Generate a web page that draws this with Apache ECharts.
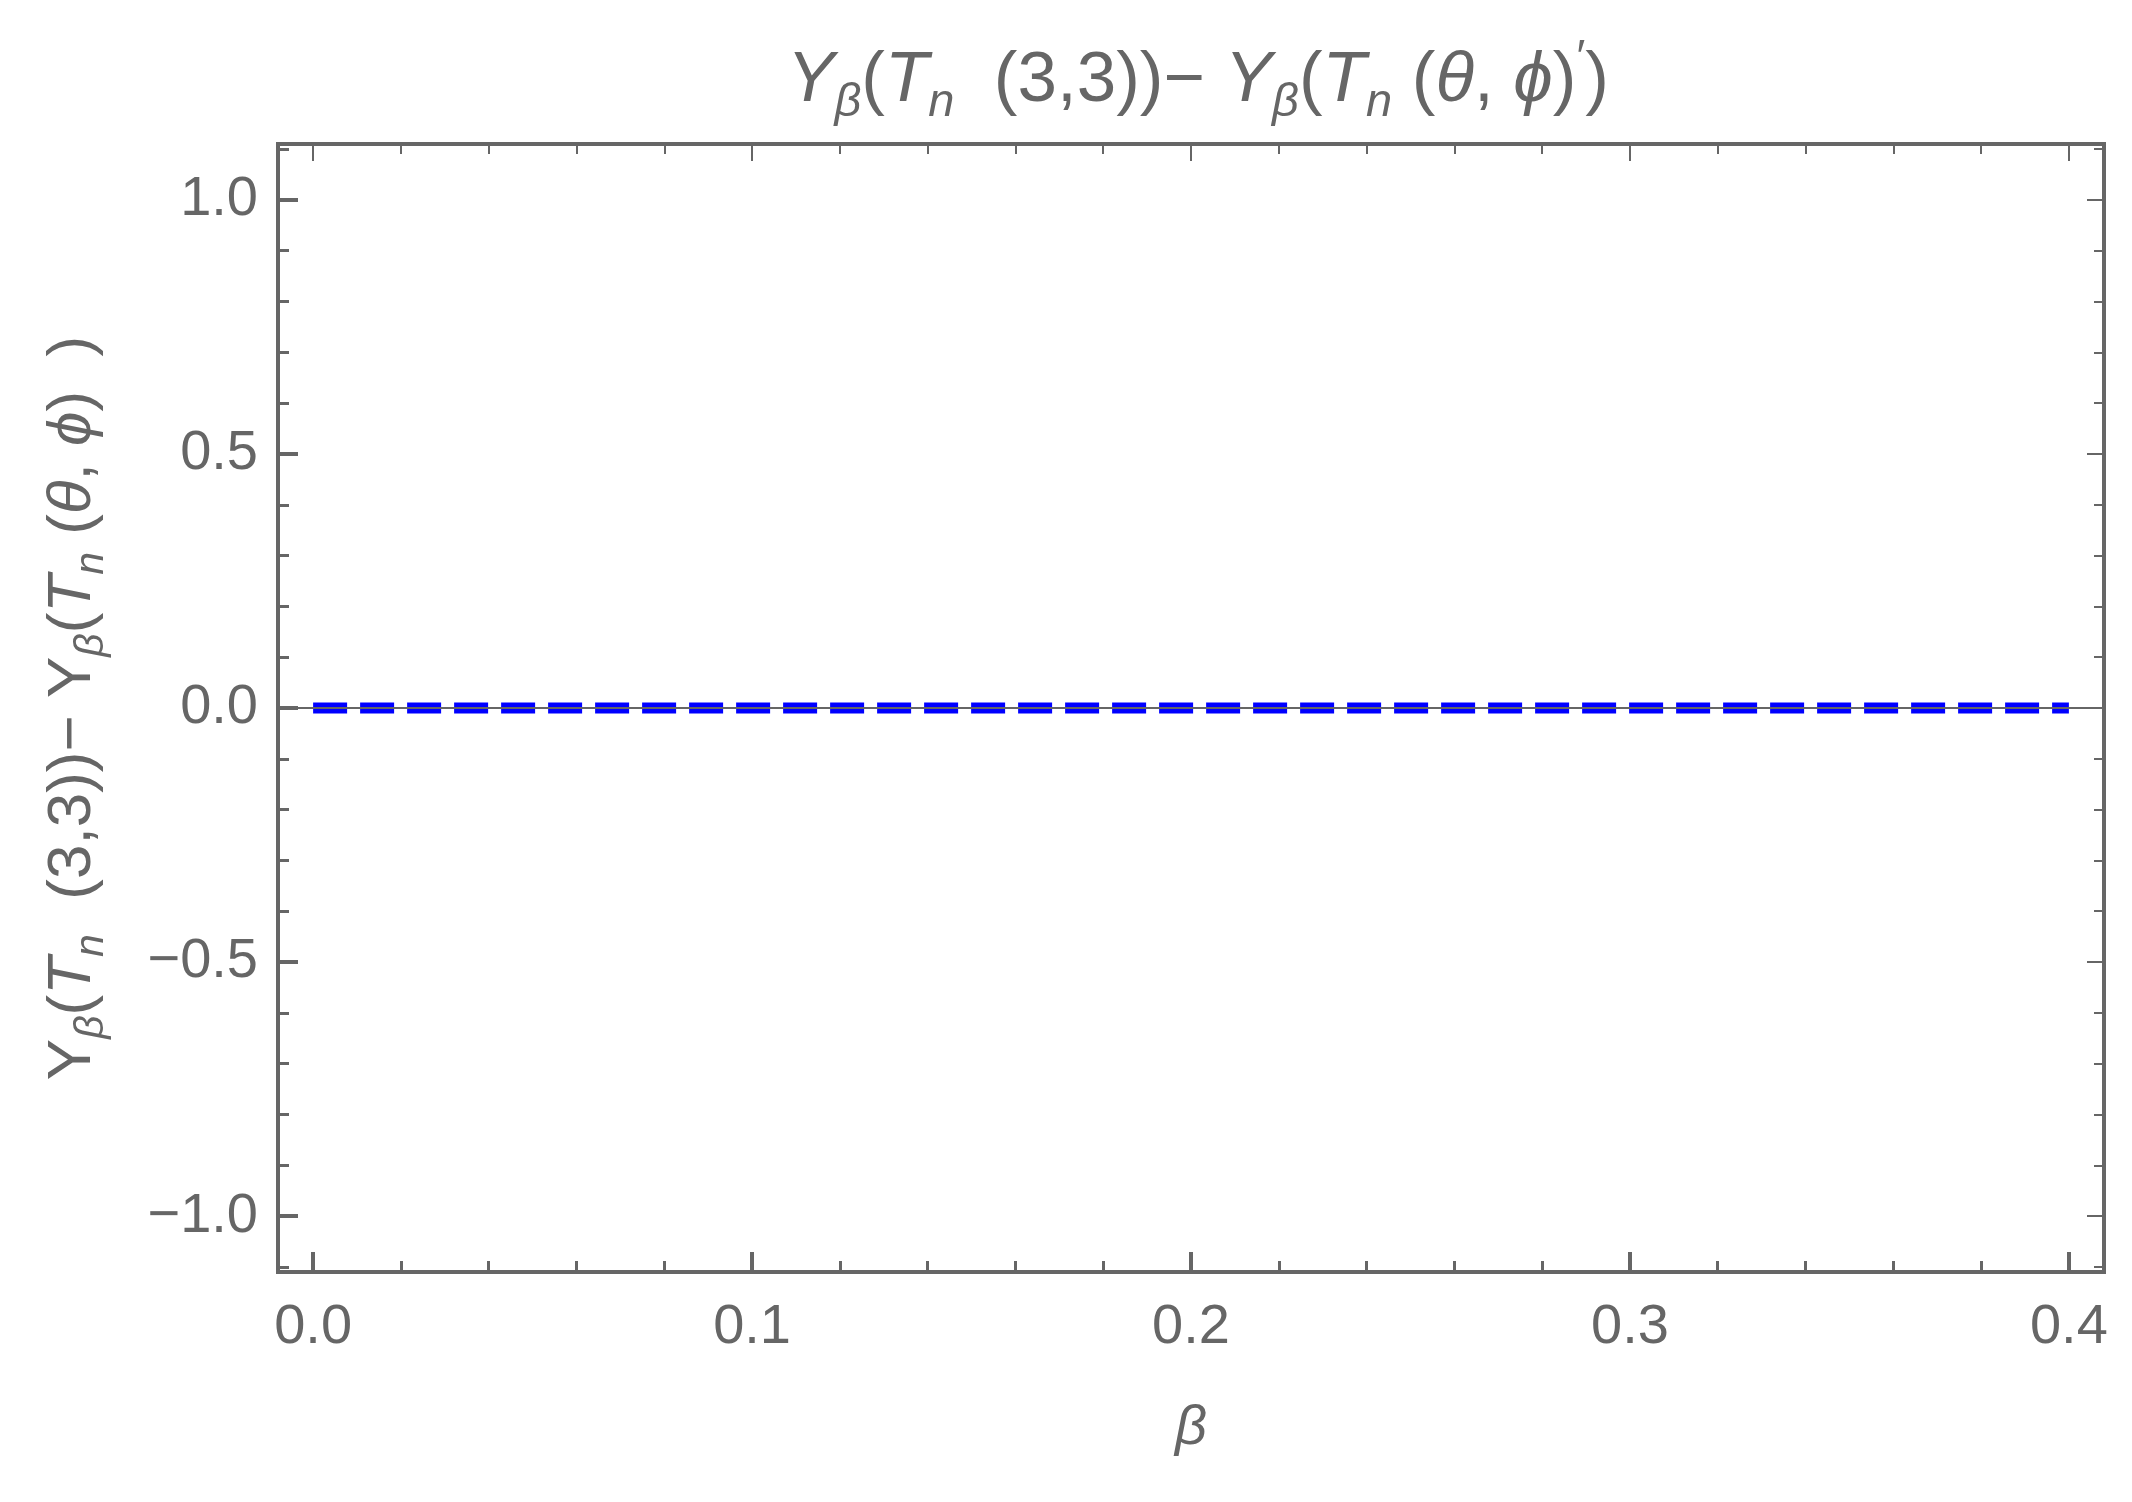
<!DOCTYPE html>
<html>
<head>
<meta charset="utf-8">
<script src="https://cdn.jsdelivr.net/npm/echarts@6/dist/echarts.min.js"></script>
<style>
html,body{margin:0;padding:0;background:#fff;}
#c{width:2132px;height:1502px;}
</style>
</head>
<body>
<div id="c"></div>
<script>
// ---- data ----
const betaValues = [0, 0.05, 0.1, 0.15, 0.2, 0.25, 0.3, 0.35, 0.4];
const diffValues = [0, 0, 0, 0, 0, 0, 0, 0, 0];
const xMajorTicks = [0, 0.1, 0.2, 0.3, 0.4];
const xMinorTicks = [0.02, 0.04, 0.06, 0.08, 0.12, 0.14, 0.16, 0.18, 0.22, 0.24, 0.26, 0.28, 0.32, 0.34, 0.36, 0.38];
const yMajorTicks = [-1, -0.5, 0, 0.5, 1];
const yMinorTicks = [-1.1, -0.9, -0.8, -0.7, -0.6, -0.4, -0.3, -0.2, -0.1, 0.1, 0.2, 0.3, 0.4, 0.6, 0.7, 0.8, 0.9, 1.1];
const xRange = [-0.008, 0.408];
const yRange = [-1.11, 1.11];

const FONT = "'Liberation Sans', Arial, sans-serif";
const GRAY = '#666666';

function fmt(v) {
  return (v < 0 ? '\u2212' : '') + Math.abs(v).toFixed(1);
}

function richStyles(fs, lh, sfs) {
  const base = {fontFamily: FONT, color: GRAY, fontWeight: 'normal'};
  return {
    n: Object.assign({}, base, {fontSize: fs, lineHeight: lh, verticalAlign: 'middle'}),
    i: Object.assign({}, base, {fontSize: fs, fontStyle: 'italic', lineHeight: lh, verticalAlign: 'middle'}),
    sub: Object.assign({}, base, {fontSize: sfs, fontStyle: 'italic', lineHeight: sfs, verticalAlign: 'bottom'}),
    sup: Object.assign({}, base, {fontSize: sfs, lineHeight: sfs, verticalAlign: 'top'})
  };
}

const titleText = '{i|Y}{sub|β}{n|(}{i|T}{sub|n}{n|  (3,3))\u2212 }{i|Y}{sub|β}{n|(}{i|T}{sub|n}{n| (}{i|θ}{n|, }{i|ϕ}{n|)}{sup|\u2032}{n|)}';
const yNameText = '{n|Y}{sub|β}{n|(}{i|T}{sub|n}{n|  (3,3))\u2212 Y}{sub|β}{n|(}{i|T}{sub|n}{n| (}{i|θ}{n|, }{i|ϕ}{n|)  )}';

function xAxisDef(pos, major, show) {
  return {
    type: 'value', gridIndex: 0, position: pos, min: xRange[0], max: xRange[1],
    axisLine: {show: show.line, onZero: false, lineStyle: {color: GRAY, width: 4, cap: 'square'}},
    axisTick: {show: true, inside: true, customValues: major ? xMajorTicks : xMinorTicks,
      length: show.len, lineStyle: {color: GRAY, width: show.w}},
    axisLabel: show.label ? {show: true, customValues: xMajorTicks, formatter: fmt, fontSize: 56, fontFamily: FONT, color: GRAY, margin: 28} : {show: false},
    splitLine: {show: false}
  };
}
function yAxisDef(pos, major, show) {
  return {
    type: 'value', gridIndex: 0, position: pos, min: yRange[0], max: yRange[1],
    axisLine: {show: show.line, onZero: false, lineStyle: {color: GRAY, width: 4, cap: 'square'}},
    axisTick: {show: true, inside: true, customValues: major ? yMajorTicks : yMinorTicks,
      length: show.len, lineStyle: {color: GRAY, width: show.w}},
    axisLabel: show.label ? {show: true, customValues: yMajorTicks, formatter: fmt, fontSize: 56, fontFamily: FONT, color: GRAY, margin: 20} : {show: false},
    splitLine: {show: false}
  };
}

const xMain = xAxisDef('bottom', true, {line: true, len: 20, w: 4, label: true});
xMain.name = 'β';
xMain.nameLocation = 'middle';
xMain.nameGap = 128;
xMain.nameTextStyle = {fontSize: 56, fontFamily: FONT, color: GRAY, fontStyle: 'italic'};

const yMain = yAxisDef('left', true, {line: true, len: 20, w: 4, label: true});
yMain.name = yNameText;
yMain.nameLocation = 'middle';
yMain.nameRotate = 90;
yMain.nameGap = 166;
yMain.nameTextStyle = {rich: richStyles(62, 79, 41)};

const chart = echarts.init(document.getElementById('c'), null, {renderer: 'canvas'});
chart.setOption({
  animation: false,
  backgroundColor: '#ffffff',
  title: {
    text: titleText,
    left: 1193, top: 31, textAlign: 'center',
    textStyle: {fontWeight: 'normal', rich: richStyles(71, 90, 47)}
  },
  grid: {left: 278, right: 28, top: 144, bottom: 230, containLabel: false, outerBoundsMode: 'none'},
  xAxis: [
    xMain,
    xAxisDef('bottom', false, {line: false, len: 11, w: 3, label: false}),
    xAxisDef('top', true, {line: true, len: 17, w: 2, label: false}),
    xAxisDef('top', false, {line: false, len: 10, w: 2, label: false})
  ],
  yAxis: [
    yMain,
    yAxisDef('left', false, {line: false, len: 11, w: 3, label: false}),
    yAxisDef('right', true, {line: true, len: 17, w: 2, label: false}),
    yAxisDef('right', false, {line: false, len: 10, w: 2, label: false})
  ],
  series: [{
    type: 'line',
    xAxisIndex: 0, yAxisIndex: 0,
    data: betaValues.map((b, i) => [b, diffValues[i]]),
    showSymbol: false,
    lineStyle: {color: '#0000ff', width: 11, type: [34, 13], cap: 'butt'},
    markLine: {
      silent: true, symbol: 'none', z: 5,
      label: {show: false},
      lineStyle: {color: GRAY, width: 2, type: 'solid'},
      data: [{yAxis: 0}]
    }
  }]
});
</script>
</body>
</html>
